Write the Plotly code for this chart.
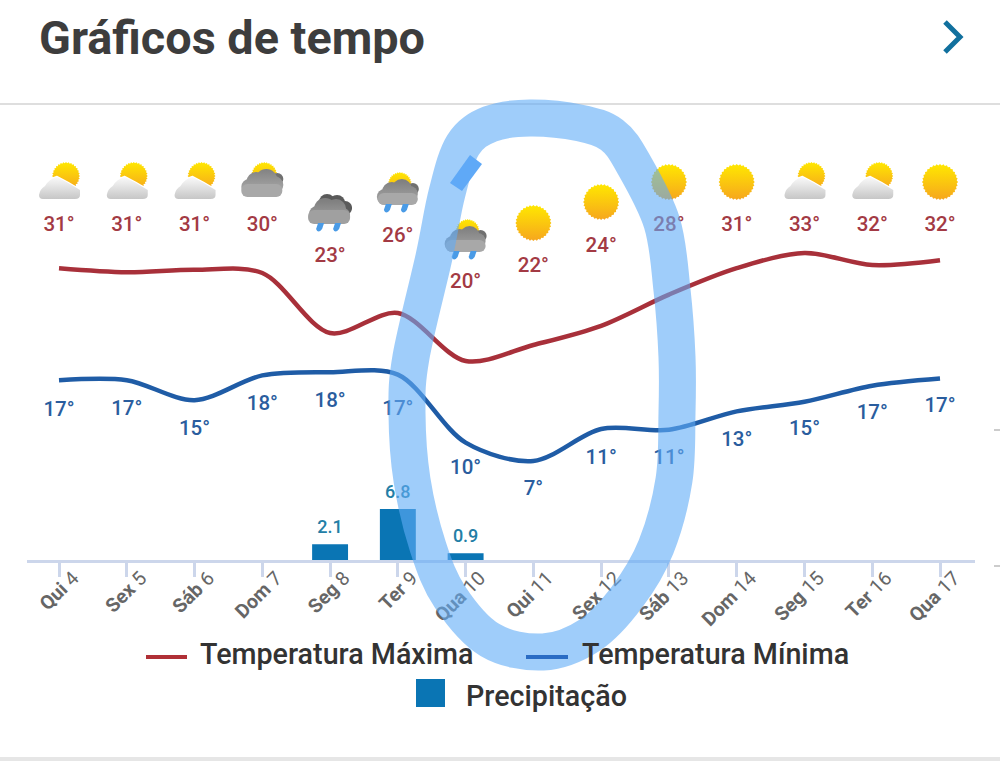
import base64
import math
import plotly.graph_objects as go

# chart data
days = ["Qui 4", "Sex 5", "Sáb 6", "Dom 7", "Seg 8", "Ter 9", "Qua 10", "Qui 11",
        "Sex 12", "Sáb 13", "Dom 14", "Seg 15", "Ter 16", "Qua 17"]
temp_max = [31.1, 30.6, 30.9, 30.5, 23.0, 25.5, 19.5, 21.5, 23.9, 27.8, 31.1, 33.0, 31.5, 32.1]
temp_min = [17.1, 17.1, 14.6, 17.7, 18.1, 17.8, 9.3, 7.0, 11.0, 10.9, 13.2, 14.4, 16.4, 17.3]
max_labels = [31, 31, 31, 30, 23, 26, 20, 22, 24, 28, 31, 33, 32, 32]
min_labels = [17, 17, 15, 18, 18, 17, 10, 7, 11, 11, 13, 15, 17, 17]
precip = [None, None, None, None, 2.1, 6.8, 0.9, None, None, None, None, None, None, None]
icons = ["partly", "partly", "partly", "dark", "rain", "sunrain", "sunrain", "sun", "sun", "sun",
         "sun", "partly", "partly", "sun"]

# layout, in page pixels
max_label_py = [226, 226, 226, 226, 257, 237, 283, 267, 247, 226, 226, 226, 226, 226]
min_label_py = [411, 410, 430, 405, 402, 410, 469, 490, 459, 459, 441, 430, 414, 407]
icon_py = [182, 182, 182, 180, 213, 193, 240, 223, 202, 182, 182, 182, 182, 182]
ring_points = [(530, 118), (580, 123), (612, 135), (633, 163), (662, 223), (672, 290), (677, 357), (677, 413),
               (674, 480), (656, 547), (627, 597), (590, 635), (543, 652), (490, 640), (450, 597), (428, 547),
               (412, 480), (407, 413), (411, 357), (434, 257), (447, 193), (463, 145), (490, 124)]

LEFT, RIGHT, BOTTOM = 27, 975, 560
PLOT_W, PLOT_H = RIGHT - LEFT, BOTTOM
FIRST_X, STEP_X = 59, 67.77
PX_PER_DEG, PX_PER_MM = 8, 7.5


def px(x):
    return (x - LEFT) / PLOT_W


def py(y):
    return 1 - y / PLOT_H


def temp_at(y):
    return 31 - (y - 269) / PX_PER_DEG


def svg_uri(body):
    svg = ('<svg xmlns="http://www.w3.org/2000/svg" width="176" height="176" viewBox="0 0 44 44"><defs>'
           '<linearGradient id="s" x1="0" y1="0" x2="0" y2="1"><stop offset="0" stop-color="#ffe800"/>'
           '<stop offset="1" stop-color="#f6a61e"/></linearGradient>'
           '<linearGradient id="l" gradientUnits="userSpaceOnUse" x1="0" y1="17" x2="0" y2="40">'
           '<stop offset="0" stop-color="#fafafa"/><stop offset="1" stop-color="#c4c4c4"/></linearGradient>'
           '<linearGradient id="g" gradientUnits="userSpaceOnUse" x1="0" y1="10" x2="0" y2="38">'
           '<stop offset="0" stop-color="#808080"/><stop offset="1" stop-color="#b0b0b0"/></linearGradient>'
           '</defs>' + body + '</svg>')
    return "data:image/svg+xml;base64," + base64.b64encode(svg.encode()).decode()


def sun_shape(cx, cy, r, teeth=32):
    pts = []
    for i in range(teeth * 2):
        a = math.pi * i / teeth
        rr = r if i % 2 == 0 else r - 1.3
        pts.append(f"{cx + rr * math.cos(a):.2f},{cy + rr * math.sin(a):.2f}")
    return f'<polygon points="{" ".join(pts)}" fill="url(#s)"/>'


def puffs(circles, fill):
    return "".join(f'<circle cx="{c[0]}" cy="{c[1]}" r="{c[2]}" fill="{fill}"/>' for c in circles)


def drops(x1, x2, y):
    one = ('<path d="M{a} {t} L{b} {t} L{c} {m} Q{d} {e} {f} {m} Z" fill="#4a9be6"/>')
    out = ""
    for x in (x1, x2):
        out += one.format(a=x - 1, b=x + 5, t=y, c=x + 3, m=y + 6, d=x - 1, e=y + 11, f=x - 3)
    return out


LIGHT_CLOUD = "M2 35 Q3 29 8 26 Q12 19 20 17 Q32 23 43 30 L43 35 Q43 39 38 39 L6 39 Q2 39 2 35 Z"

icon_svg = {
    "sun": svg_uri(sun_shape(22, 22, 18)),
    "partly": svg_uri(sun_shape(29, 16, 14)
                      + f'<path d="{LIGHT_CLOUD}" fill="#fff" stroke="#fff" stroke-width="2.5"/>'
                      + f'<path d="{LIGHT_CLOUD}" fill="url(#l)"/>'),
    "dark": svg_uri(sun_shape(24, 17, 13)
                    + puffs([(37, 21, 6)], "#707070")
                    + puffs([(9, 29, 8), (16, 24, 10), (26, 22, 11), (34, 27, 9)], "url(#g)")
                    + '<rect x="1" y="26" width="41" height="13" rx="6" fill="#a8a8a8"/>'),
    "rain": svg_uri(puffs([(19, 11, 8), (29, 12, 8), (37, 17, 7)], "#5a5a5a")
                    + puffs([(9, 23, 8), (17, 18, 11), (28, 18, 10), (35, 24, 7)], "url(#g)")
                    + '<rect x="0" y="19" width="42" height="14" rx="6" fill="#a0a0a0"/>'
                    + drops(11, 28, 32)),
    "sunrain": svg_uri(sun_shape(24, 13, 12)
                       + puffs([(37, 18, 6)], "#707070")
                       + puffs([(9, 26, 8), (16, 21, 10), (26, 18, 10), (34, 23, 8)], "url(#g)")
                       + '<rect x="2" y="22" width="40" height="12" rx="6" fill="#a8a8a8"/>'
                       + drops(11, 28, 33)),
}


def closed_curve(points):
    # catmull-rom through the pen points, written as svg cubic segments
    n = len(points)
    path = f"M {px(points[0][0]):.5f} {py(points[0][1]):.5f}"
    for i in range(n):
        p0, p1, p2, p3 = points[i - 1], points[i], points[(i + 1) % n], points[(i + 2) % n]
        c1 = (p1[0] + (p2[0] - p0[0]) / 6, p1[1] + (p2[1] - p0[1]) / 6)
        c2 = (p2[0] - (p3[0] - p1[0]) / 6, p2[1] - (p3[1] - p1[1]) / 6)
        path += (f" C {px(c1[0]):.5f} {py(c1[1]):.5f} {px(c2[0]):.5f} {py(c2[1]):.5f}"
                 f" {px(p2[0]):.5f} {py(p2[1]):.5f}")
    return path + " Z"


def polygon(points, close=True):
    path = "M " + " L ".join(f"{px(x):.5f} {py(y):.5f}" for x, y in points)
    return path + (" Z" if close else "")


RED, BLUE, BAR = "#a8303a", "#1f5ca6", "#0a75b4"
FONT = "Roboto"

fig = go.Figure()
fig.add_trace(go.Bar(x=days, y=precip, yaxis="y2", width=0.53, marker=dict(color=BAR, line_width=0)))
fig.add_trace(go.Scatter(x=days, y=[v + 16 / PX_PER_MM if v else None for v in precip], yaxis="y2", mode="text",
                         text=[f"{v}" if v else "" for v in precip], cliponaxis=False,
                         textfont=dict(family=FONT, size=18, color="#237ea6", weight=500)))
fig.add_trace(go.Scatter(x=days, y=temp_max, mode="lines", line=dict(color=RED, width=4.5, shape="spline", smoothing=0.9)))
fig.add_trace(go.Scatter(x=days, y=temp_min, mode="lines", line=dict(color=BLUE, width=4.5, shape="spline", smoothing=0.9)))
fig.add_trace(go.Scatter(x=days, y=[temp_at(v) for v in max_label_py], mode="text",
                         text=[f"{v}°" for v in max_labels], cliponaxis=False,
                         textfont=dict(family=FONT, size=20.5, color="#a33a44", weight=500)))
fig.add_trace(go.Scatter(x=days, y=[temp_at(v) for v in min_label_py], mode="text",
                         text=[f"{v}°" for v in min_labels], cliponaxis=False,
                         textfont=dict(family=FONT, size=20.5, color="#2a5d9e", weight=500)))

images = []
for i, kind in enumerate(icons):
    images.append(dict(source=icon_svg[kind], xref="paper", yref="paper", x=px(FIRST_X + STEP_X * i), y=py(icon_py[i]),
                       sizex=44 / PLOT_W, sizey=44 / PLOT_H, xanchor="center", yanchor="middle",
                       sizing="contain", layer="below"))

HIGHLIGHT = "rgb(97,172,247)"
shapes = [
    dict(type="line", xref="paper", yref="paper", x0=px(0), x1=px(1000), y0=py(104), y1=py(104),
         line=dict(color="#dedede", width=2)),
    dict(type="line", xref="paper", yref="paper", x0=px(0), x1=px(1000), y0=py(759), y1=py(759),
         line=dict(color="#e6e6e6", width=4)),
    dict(type="line", xref="paper", yref="paper", x0=px(994), x1=px(1000), y0=py(430), y1=py(430),
         line=dict(color="#cccccc", width=2)),
    dict(type="line", xref="paper", yref="paper", x0=px(994), x1=px(1000), y0=py(566), y1=py(566),
         line=dict(color="#cccccc", width=2)),
    dict(type="path", xref="paper", yref="paper", path=polygon([(945, 22), (960, 37), (945, 52)], close=False),
         line=dict(color="#11709e", width=5)),
    dict(type="path", xref="paper", yref="paper", path=closed_curve(ring_points), layer="above", opacity=0.6,
         line=dict(color=HIGHLIGHT, width=37)),
    dict(type="path", xref="paper", yref="paper", layer="above", fillcolor="#5fa9f7", line_width=0,
         path=polygon([(470, 155), (482, 164), (462, 191), (450, 183)])),
    dict(type="line", xref="paper", yref="paper", x0=px(146), x1=px(187), y0=py(657), y1=py(657),
         line=dict(color="#b03036", width=4)),
    dict(type="line", xref="paper", yref="paper", x0=px(526), x1=px(568), y0=py(657), y1=py(657),
         line=dict(color="#2a6cc4", width=4)),
    dict(type="rect", xref="paper", yref="paper", x0=px(416), x1=px(445), y0=py(679), y1=py(707),
         fillcolor=BAR, line_width=0),
]


def page_text(x, y, text, size, weight=500, color="#333333"):
    return dict(x=px(x), y=py(y), xref="paper", yref="paper", text=text, showarrow=False, xanchor="left",
                yanchor="middle", font=dict(family=FONT, size=size, color=color, weight=weight))


annotations = [
    page_text(37, 38, "Gráficos de tempo", 46.8, 700, "#3d3d3d"),
    page_text(198, 654, "Temperatura Máxima", 28.7),
    page_text(580, 654, "Temperatura Mínima", 28.7),
    page_text(464, 696, "Precipitação", 28.7),
]

fig.update_layout(
    width=1000, height=761, showlegend=False, paper_bgcolor="white", plot_bgcolor="white",
    margin=dict(l=LEFT, r=1000 - RIGHT, t=0, b=761 - BOTTOM),
    images=images, shapes=shapes, annotations=annotations,
    xaxis=dict(type="category", categoryorder="array", categoryarray=days,
               range=[(LEFT - FIRST_X) / STEP_X, (RIGHT - FIRST_X) / STEP_X],
               tickvals=days, ticktext=[f"<b>{d.split()[0]}</b> {d.split()[1]}" for d in days],
               tickangle=-45, tickfont=dict(family=FONT, size=19.5, color="#666666"),
               ticks="outside", ticklen=14, tickwidth=3, tickcolor="#ccd6eb",
               ticklabelstandoff=-18, ticklabelshift=14,
               showline=True, linecolor="#ccd6eb", linewidth=3, showgrid=False, zeroline=False),
    yaxis=dict(range=[temp_at(BOTTOM), temp_at(0)], visible=False, showgrid=False, zeroline=False),
    yaxis2=dict(range=[0, BOTTOM / PX_PER_MM], overlaying="y", visible=False, showgrid=False, zeroline=False),
)

fig.write_html("out.html", config=dict(displayModeBar=False),
               post_script="document.body.style.margin='0';")
